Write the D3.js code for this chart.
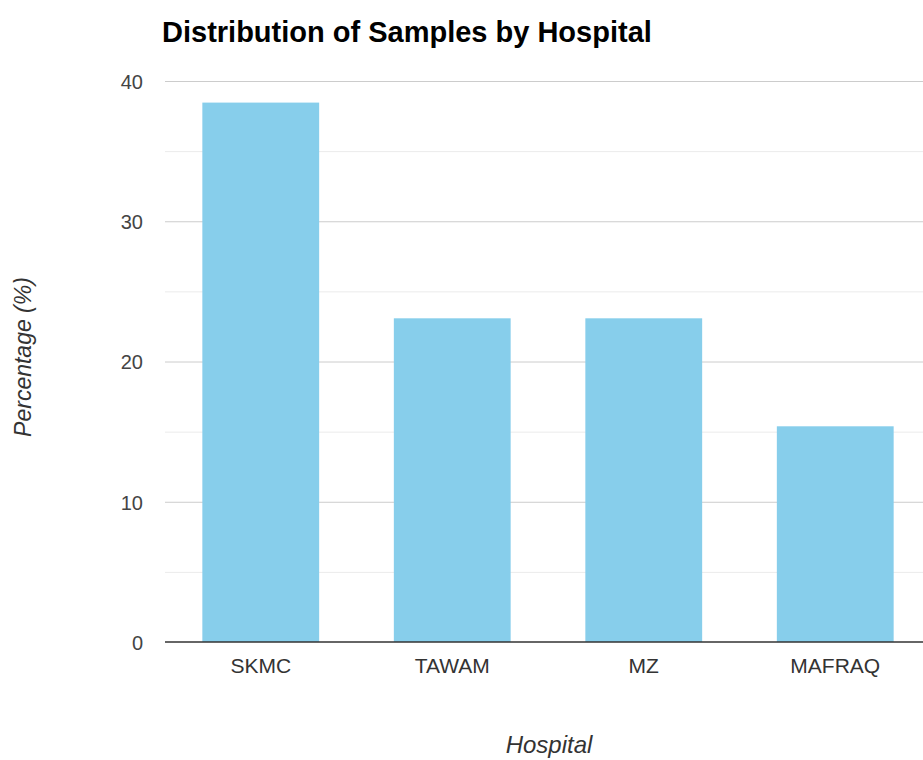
<!DOCTYPE html>
<html>
<head>
<meta charset="utf-8">
<script src="https://cdn.jsdelivr.net/npm/d3@7"></script>
<style>
  body { margin: 0; background: #fff; }
  svg { display: block; font-family: 'Liberation Sans', Arial, sans-serif; }
</style>
</head>
<body>
<div id="chart"></div>
<script>
const hospitals = ['SKMC', 'TAWAM', 'MZ', 'MAFRAQ']
const percentages = [38.46, 23.08, 23.08, 15.38]
const majorTicks = [0, 10, 20, 30, 40]
const minorTicks = [5, 15, 25, 35]

const width = 923
const height = 760
const plotLeft = 165
const plotTop = 81
const plotBottom = 642
const font = 'Liberation Sans, Arial, sans-serif'

const svg = d3.select('#chart')
  .append('svg')
  .attr('width', width)
  .attr('height', height)

const x = d3.scaleBand()
  .domain(hospitals)
  .range([plotLeft, 931])
  .paddingInner(0.39)
  .paddingOuter(0.195)

const y = d3.scaleLinear()
  .domain([0, 40])
  .range([plotBottom, plotTop])

// gridlines, minor first then major
svg.append('g')
  .selectAll('line')
  .data(minorTicks)
  .join('line')
  .attr('x1', plotLeft)
  .attr('x2', width)
  .attr('y1', d => y(d) + 0.5)
  .attr('y2', d => y(d) + 0.5)
  .attr('stroke', '#ebebeb')

svg.append('g')
  .selectAll('line')
  .data(majorTicks.filter(d => d !== 0))
  .join('line')
  .attr('x1', plotLeft)
  .attr('x2', width)
  .attr('y1', d => y(d) + 0.5)
  .attr('y2', d => y(d) + 0.5)
  .attr('stroke', '#cccccc')

// y tick labels
const yAxis = d3.axisLeft(y).tickValues(majorTicks).tickSize(0).tickPadding(0)
svg.append('g')
  .attr('transform', 'translate(143,1)')
  .call(yAxis)
  .call(g => g.select('.domain').remove())
  .call(g => g.selectAll('text')
    .attr('font-size', 20)
    .attr('font-family', font)
    .attr('fill', '#444'))

// bars
svg.append('g')
  .selectAll('rect')
  .data(percentages)
  .join('rect')
  .attr('x', (d, i) => x(hospitals[i]))
  .attr('y', d => y(d))
  .attr('width', x.bandwidth())
  .attr('height', d => y(0) - y(d))
  .attr('fill', '#87ceeb')

// baseline
svg.append('line')
  .attr('x1', plotLeft)
  .attr('x2', width)
  .attr('y1', y(0))
  .attr('y2', y(0))
  .attr('stroke', '#333')
  .attr('stroke-width', 1.5)

// x tick labels
const xAxis = d3.axisBottom(x).tickSize(0).tickPadding(0)
svg.append('g')
  .attr('transform', `translate(0,${plotBottom + 16})`)
  .call(xAxis)
  .call(g => g.select('.domain').remove())
  .call(g => g.selectAll('text')
    .attr('font-size', 21)
    .attr('font-family', font)
    .attr('fill', '#333'))

// title
svg.append('text')
  .attr('x', 162)
  .attr('y', 42)
  .attr('font-family', font)
  .attr('font-size', 29)
  .attr('font-weight', 'bold')
  .attr('fill', '#000')
  .text('Distribution of Samples by Hospital')

// axis titles
svg.append('text')
  .attr('transform', 'translate(31,357) rotate(-90)')
  .attr('text-anchor', 'middle')
  .attr('font-family', font)
  .attr('font-size', 23)
  .attr('font-style', 'italic')
  .attr('fill', '#333')
  .text('Percentage (%)')

svg.append('text')
  .attr('x', 549)
  .attr('y', 753)
  .attr('text-anchor', 'middle')
  .attr('font-family', font)
  .attr('font-size', 24)
  .attr('font-style', 'italic')
  .attr('fill', '#333')
  .text('Hospital')
</script>
</body>
</html>
